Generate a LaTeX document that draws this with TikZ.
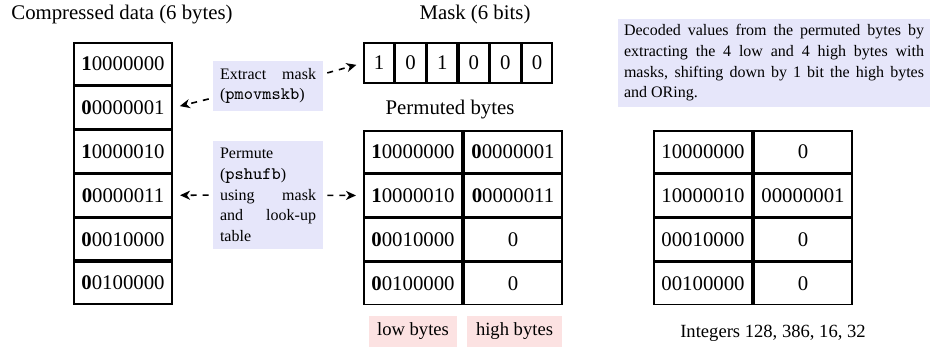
\documentclass[tikz,border=0pt]{standalone}
\usepackage{fontspec}
\setmainfont{Liberation Serif}
\usetikzlibrary{positioning,calc,arrows.meta}
\definecolor{notebg}{RGB}{230,230,250}
\definecolor{labelbg}{RGB}{252,226,226}
\newcommand{\opname}[1]{{\fontsize{8.8pt}{10.3pt}\selectfont\ttfamily #1}}

\tikzset{
  byte/.style={draw, line width=0.8pt, minimum width=49.2pt, minimum height=21.1pt, inner sep=0pt},
  bit/.style={draw, line width=0.8pt, minimum width=15pt, minimum height=20pt, inner sep=0pt},
  note/.style={fill=notebg, text width=48pt, inner sep=3.5pt, align=justify,
    font=\fontsize{8pt}{10.3pt}\selectfont},
  tag/.style={fill=labelbg, inner sep=0pt, minimum height=15.5pt,
    font=\fontsize{9.3pt}{11pt}\selectfont},
  pointer/.style={dashed, thick, -{Stealth[length=5pt,width=4.5pt,inset=1.5pt]},
    shorten >=3.5pt, shorten <=2pt}
}

\begin{document}
\begin{tikzpicture}[x=0.5pt, y=-0.5pt, font=\fontsize{10.4pt}{12.5pt}\selectfont]
\useasboundingbox (0,0) rectangle (930,351);

% compressed data
\node (ctitle) at (122,15) {Compressed data (6 bytes)};
\node[byte] (c1) at (123,64) {\textbf{1}0000000};
\node[byte, below=0pt of c1] (c2) {\textbf{0}0000001};
\node[byte, below=0pt of c2] (c3) {\textbf{1}0000010};
\node[byte, below=0pt of c3] (c4) {\textbf{0}0000011};
\node[byte, below=0pt of c4] (c5) {\textbf{0}0010000};
\node[byte, below=0pt of c5] (c6) {\textbf{0}0100000};

% mask
\node (mtitle) at (475,15) {Mask (6 bits)};
\node[bit] (m1) at (379,63) {1};
\node[bit, right=0pt of m1] (m2) {0};
\node[bit, right=0pt of m2] (m3) {1};
\node[bit, right=0pt of m3] (m4) {0};
\node[bit, right=0pt of m4] (m5) {0};
\node[bit, right=0pt of m5] (m6) {0};

% permuted bytes
\node (ptitle) at (450,110) {Permuted bytes};
\node[byte] (p1a) at (413,152) {\textbf{1}0000000};
\node[byte, right=0pt of p1a] (p1b) {\textbf{0}0000001};
\node[byte, below=0pt of p1a] (p2a) {\textbf{1}0000010};
\node[byte, right=0pt of p2a] (p2b) {\textbf{0}0000011};
\node[byte, below=0pt of p2a] (p3a) {\textbf{0}0010000};
\node[byte, right=0pt of p3a] (p3b) {0};
\node[byte, below=0pt of p3a] (p4a) {\textbf{0}0100000};
\node[byte, right=0pt of p4a] (p4b) {0};
\node[tag, minimum width=44pt] (low) at (413,331.5) {low bytes};
\node[tag, minimum width=47.5pt] (high) at (514.5,331.5) {high bytes};

% decoded values
\node[note, text width=150pt, inner sep=3pt] (decoded) at (774,63)
  {Decoded values from the permuted bytes by\linebreak extracting the 4 low and 4 high bytes with\linebreak masks, shifting down by 1 bit the high bytes\linebreak and ORing.};
\node[byte] (d1a) at (703,152) {10000000};
\node[byte, right=0pt of d1a] (d1b) {0};
\node[byte, below=0pt of d1a] (d2a) {10000010};
\node[byte, right=0pt of d2a] (d2b) {00000001};
\node[byte, below=0pt of d2a] (d3a) {00010000};
\node[byte, right=0pt of d3a] (d3b) {0};
\node[byte, below=0pt of d3a] (d4a) {00100000};
\node[byte, right=0pt of d4a] (d4b) {0};
\node[font=\fontsize{9.3pt}{11pt}\selectfont] (ints) at (773,333) {Integers 128, 386, 16, 32};

% operations
\node[note] (extract) at (268,86) {Extract mask\linebreak (\opname{pmovmskb})};
\node[note] (permute) at (268,195) {Permute\\ (\opname{pshufb})\\ using mask\linebreak and look-up\linebreak table};
\coordinate (exout) at ($(extract.east)+(0,-12)$);
\coordinate (exin) at ($(extract.west)+(0,12)$);
\draw[pointer] (exout) -- (m1.west);
\draw[pointer] (exin) -- (c2.east);
\draw[pointer] (permute) -- (c4);
\draw[pointer] (permute) -- (p2a);
\end{tikzpicture}
\end{document}
